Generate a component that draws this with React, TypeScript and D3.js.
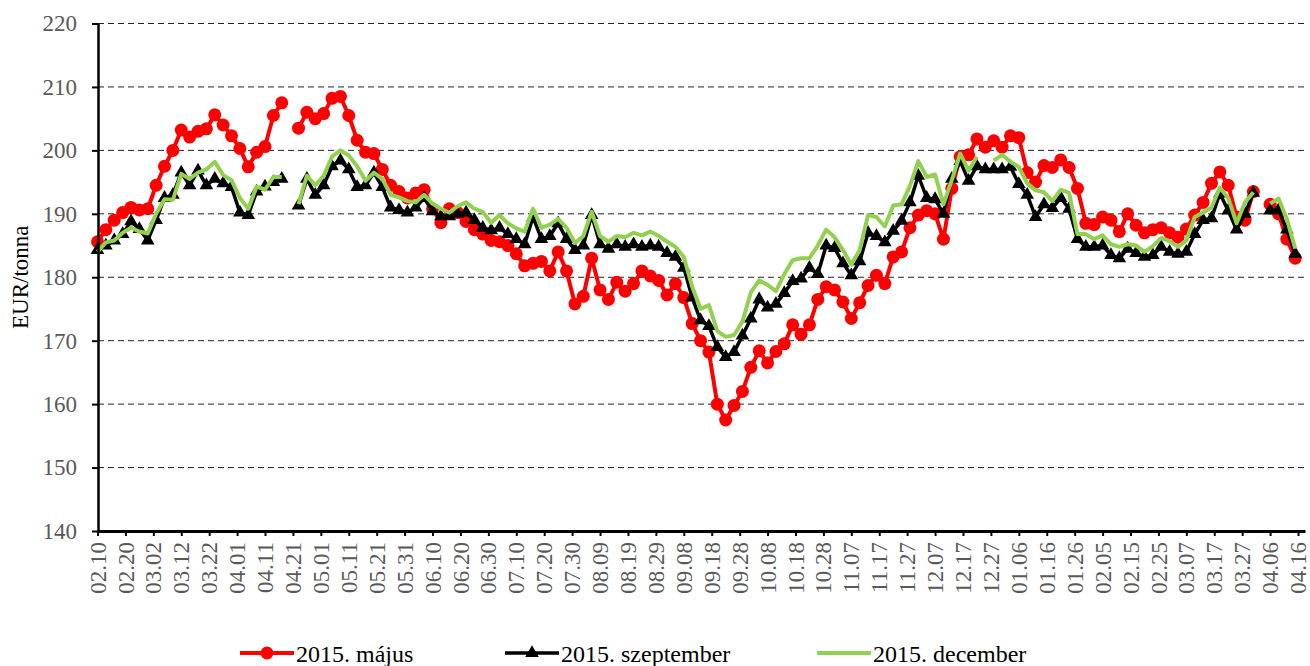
import React, { useEffect, useRef } from 'react';
import * as d3 from 'd3';

// x axis labels, one every 10 days starting 2014.02.10
const tickLabels = [
  "02.10", "02.20", "03.02", "03.12", "03.22", "04.01", "04.11", "04.21", "05.01", "05.11",
  "05.21", "05.31", "06.10", "06.20", "06.30", "07.10", "07.20", "07.30", "08.09", "08.19",
  "08.29", "09.08", "09.18", "09.28", "10.08", "10.18", "10.28", "11.07", "11.17", "11.27",
  "12.07", "12.17", "12.27", "01.06", "01.16", "01.26", "02.05", "02.15", "02.25", "03.07",
  "03.17", "03.27", "04.06", "04.16"
];
const tickStep = 10;   // days between labels
const sampleStep = 3;  // days between readings

const yTicks = [140, 150, 160, 170, 180, 190, 200, 210, 220];

// EUR/tonna, one reading every 3 days (null = no quote)
const majus = [
  185.6, 187.5, 189.0, 190.2, 191.0, 190.6, 190.8, 194.5, 197.5, 200.0, 203.2, 202.1,
  203.0, 203.4, 205.6, 204.0, 202.3, 200.3, 197.4, 199.7, 200.6, 205.5, 207.5, null,
  203.5, 206.0, 205.0, 205.8, 208.2, 208.5, 205.5, 201.6, 199.7, 199.5, 197.0, 194.5,
  193.5, 192.5, 193.3, 193.8, 190.8, 188.6, 190.8, 190.2, 188.8, 187.5, 186.8, 185.8,
  185.6, 185.0, 183.7, 181.8, 182.2, 182.5, 181.0, 184.0, 181.0, 175.8, 177.0, 183.0,
  178.0, 176.5, 179.2, 177.8, 179.0, 181.0, 180.2, 179.5, 177.2, 179.0, 176.8, 172.7,
  170.0, 168.2, 160.0, 157.5, 159.8, 162.0, 165.8, 168.4, 166.5, 168.3, 169.5, 172.5,
  171.0, 172.5, 176.5, 178.5, 178.0, 176.1, 173.5, 176.0, 178.7, 180.3, 179.0, 183.2,
  184.0, 187.8, 189.8, 190.5, 190.0, 186.0, 194.0, 199.0, 199.3, 201.8, 200.5, 201.5,
  200.5, 202.3, 202.0, 196.5, 195.0, 197.6, 197.3, 198.5, 197.3, 194.0, 188.5, 188.3,
  189.5, 189.0, 187.2, 190.0, 188.2, 187.0, 187.5, 187.8, 187.0, 186.3, 187.6, 189.8,
  191.8, 194.8, 196.6, 194.5, 189.5, 189.0, 193.5, null, 191.5, 190.0, 186.0, 183.0
];

const szeptember = [
  184.3, 185.0, 185.8, 186.8, 188.8, 187.6, 185.8, 189.0, 192.5, 193.0, 196.5, 194.5,
  196.8, 194.5, 195.5, 194.8, 194.2, 190.2, 189.8, 193.5, 194.3, 195.0, 195.5, null,
  191.3, 195.5, 193.0, 194.5, 197.5, 198.4, 197.0, 194.2, 194.5, 196.5, 194.2, 191.0,
  190.6, 190.2, 191.0, 192.5, 190.4, 189.6, 189.6, 190.0, 190.2, 189.0, 187.8, 187.4,
  187.8, 186.8, 186.0, 185.2, 189.5, 186.0, 186.5, 188.5, 186.0, 184.3, 185.0, 189.8,
  185.2, 184.5, 185.2, 184.8, 185.2, 184.8, 185.0, 184.8, 183.8, 183.2, 181.5, 176.8,
  173.2, 172.3, 169.0, 167.4, 168.2, 170.8, 173.5, 176.5, 175.2, 175.8, 177.5, 179.4,
  179.8, 181.5, 180.5, 185.0, 184.6, 182.2, 180.3, 182.5, 187.0, 186.5, 185.5, 187.3,
  188.9, 191.8, 196.0, 192.5, 192.3, 190.0, 195.5, 198.3, 195.2, 197.5, 197.0, 197.0,
  197.0, 197.4, 194.7, 193.0, 189.5, 191.5, 190.9, 192.5, 190.8, 186.0, 184.8, 184.8,
  185.0, 183.5, 183.0, 184.5, 183.8, 183.2, 183.5, 184.8, 184.0, 183.7, 184.0, 186.8,
  189.0, 189.3, 193.2, 190.5, 187.5, 190.0, 193.3, null, 190.5, 190.6, 187.5, 183.7
];

const december = [
  184.0, 185.5, 185.8, 187.0, 187.8, 187.2, 186.9, 190.0, 192.3, 192.2, 196.3, 195.5,
  196.5, 197.0, 198.2, 196.1, 195.3, 192.5, 190.8, 194.3, 193.8, 195.8, 195.8, null,
  191.5, 196.0, 194.5, 196.0, 199.0, 200.0, 199.2, 197.5, 195.2, 196.5, 195.5, 193.0,
  192.6, 192.0, 191.8, 193.0, 191.6, 190.8, 190.2, 191.2, 191.8, 190.8, 190.3, 188.6,
  189.8, 188.5, 187.7, 187.2, 190.8, 187.8, 188.3, 189.2, 187.8, 185.4, 186.5, 190.3,
  186.5, 185.6, 186.5, 186.3, 187.0, 186.6, 187.2, 186.5, 185.6, 184.8, 183.2, 178.5,
  175.0, 175.6, 171.5, 170.6, 170.9, 173.0, 177.6, 179.5, 178.8, 177.8, 180.5, 182.7,
  183.0, 183.0, 185.0, 187.5, 186.3, 184.3, 182.0, 184.3, 189.8, 189.5, 188.0, 191.3,
  191.5, 194.4, 198.3, 195.8, 196.2, 191.5, 195.3, 199.5, 196.8, 199.0, null, 198.4,
  199.3, 198.2, 197.4, 194.8, 193.7, 193.4, 192.0, 193.8, 193.3, 186.8, 186.8, 186.0,
  186.6, 185.2, 184.8, 185.2, 185.0, 184.0, 184.9, 186.2, 185.7, 184.8, 185.8, 189.5,
  190.2, 191.0, 194.1, 192.5, 188.5, 191.8, 193.4, null, 191.6, 192.4, 189.2, 184.5
];

const seriesList = [
  { name: "2015. május", values: majus, color: "#FF0000", width: 4, marker: "circle" },
  { name: "2015. szeptember", values: szeptember, color: "#000000", width: 3.5, marker: "triangle" },
  { name: "2015. december", values: december, color: "#92D050", width: 4, marker: "none" },
];

const font = "'Liberation Serif', 'Times New Roman', serif";

function FuturesChart() {
  const ref = useRef<SVGSVGElement>(null);

  useEffect(() => {
    const svg = d3.select(ref.current);
    svg.selectAll("*").remove();

    const left = 98, right = 1305, top = 23.5, bottom = 531;

    const x = d3.scaleLinear().domain([0, 432.5]).range([left - 0.5, right]);
    const y = d3.scaleLinear().domain([140, 220]).range([bottom, top]);

    // dashed gridlines
    svg.append("g")
      .selectAll("line")
      .data(yTicks.filter(d => d > 140))
      .enter().append("line")
      .attr("x1", left)
      .attr("x2", right)
      .attr("y1", d => y(d))
      .attr("y2", d => y(d))
      .attr("stroke", "#222")
      .attr("stroke-width", 1)
      .attr("stroke-dasharray", "6,4");

    // series
    seriesList.forEach(s => {
      const line = d3.line<number | null>()
        .defined(v => v != null)
        .x((v, i) => x(i * sampleStep))
        .y(v => y(v as number));

      svg.append("path")
        .datum(s.values)
        .attr("d", line)
        .attr("fill", "none")
        .attr("stroke", s.color)
        .attr("stroke-width", s.width)
        .attr("stroke-linejoin", "round");

      const pts = s.values
        .map((v, i) => ({ v, day: i * sampleStep }))
        .filter(p => p.v != null);

      if (s.marker === "circle") {
        svg.append("g").selectAll("circle")
          .data(pts)
          .enter().append("circle")
          .attr("cx", p => x(p.day))
          .attr("cy", p => y(p.v as number))
          .attr("r", 6.5)
          .attr("fill", s.color);
      } else if (s.marker === "triangle") {
        svg.append("g").selectAll("path")
          .data(pts)
          .enter().append("path")
          .attr("d", d3.symbol(d3.symbolTriangle, 80))
          .attr("transform", p => "translate(" + x(p.day) + "," + y(p.v as number) + ")")
          .attr("fill", s.color);
      }
    });

    // y axis
    const yAxis = svg.append("g")
      .attr("transform", "translate(" + left + ",0)")
      .call(d3.axisLeft(y).tickValues(yTicks).tickSize(6).tickSizeOuter(0).tickPadding(15).tickFormat(d3.format("d")));
    yAxis.select(".domain").attr("stroke", "#000").attr("stroke-width", 2.5);
    yAxis.selectAll(".tick line").attr("stroke", "#000").attr("stroke-width", 2);
    yAxis.selectAll("text")
      .attr("font-family", font)
      .attr("font-size", 23)
      .attr("fill", "#595959");

    // x axis
    const xAxis = svg.append("g")
      .attr("transform", "translate(0," + bottom + ")")
      .call(d3.axisBottom(x)
        .tickValues(tickLabels.map((_, i) => i * tickStep))
        .tickFormat((d, i) => tickLabels[i])
        .tickSize(5)
        .tickSizeOuter(0));
    xAxis.select(".domain").attr("stroke", "#000").attr("stroke-width", 3);
    xAxis.selectAll(".tick line").attr("stroke", "#000").attr("stroke-width", 2);
    xAxis.selectAll("text")
      .attr("font-family", font)
      .attr("font-size", 23)
      .attr("fill", "#595959")
      .attr("transform", "rotate(-90)")
      .attr("text-anchor", "end")
      .attr("x", -11)
      .attr("y", 0)
      .attr("dy", "0.33em");

    // y title
    svg.append("text")
      .attr("transform", "translate(28," + ((top + bottom) / 2) + ") rotate(-90)")
      .attr("text-anchor", "middle")
      .attr("font-family", font)
      .attr("font-size", 23)
      .attr("fill", "#000")
      .text("EUR/tonna");

    // legend
    const legendX = [240, 505, 817];
    const legendY = 653;
    seriesList.forEach((s, i) => {
      const g = svg.append("g").attr("transform", "translate(" + legendX[i] + "," + legendY + ")");
      g.append("line")
        .attr("x1", 0).attr("x2", 54)
        .attr("stroke", s.color)
        .attr("stroke-width", s.width);
      if (s.marker === "circle") {
        g.append("circle").attr("cx", 27).attr("r", 6.5).attr("fill", s.color);
      } else if (s.marker === "triangle") {
        g.append("path").attr("d", d3.symbol(d3.symbolTriangle, 80)).attr("transform", "translate(27,0)").attr("fill", s.color);
      }
      g.append("text")
        .attr("x", 56)
        .attr("y", 9)
        .attr("font-family", font)
        .attr("font-size", 24)
        .attr("fill", "#000")
        .text(s.name);
    });
  }, []);

  return (
    <svg ref={ref} width={1310} height={666} style={{ position: 'absolute', left: 0, top: 0, background: '#fff' }} />
  );
}

export default function App() {
  return <FuturesChart />;
}
